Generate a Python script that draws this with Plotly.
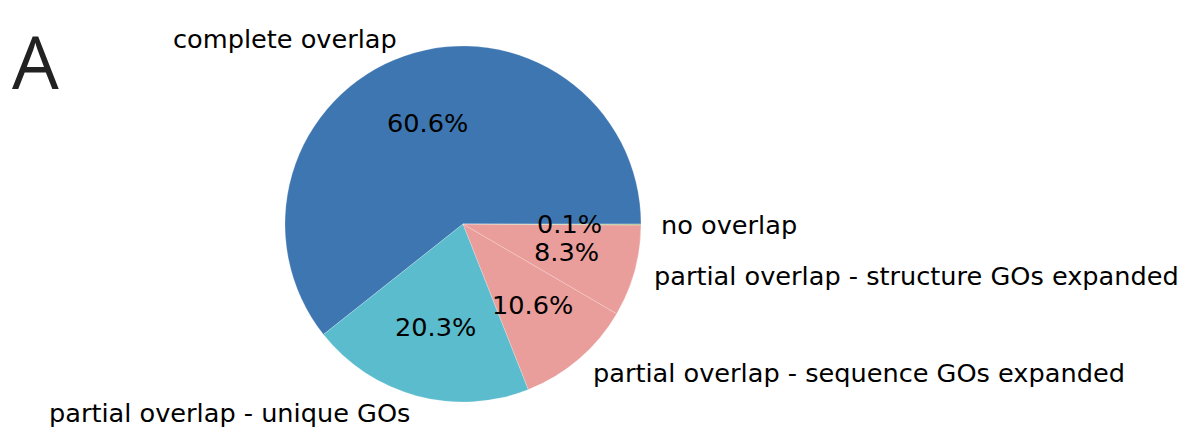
import numpy as np
import plotly.graph_objects as go

labels = ["complete overlap", "partial overlap - unique GOs",
          "partial overlap - sequence GOs expanded",
          "partial overlap - structure GOs expanded", "no overlap"]
values = [60.6, 20.3, 10.6, 8.3, 0.1]
colors = ["#3e76b1", "#5bbccd", "#e99e9b", "#e99e9b", "#a6c48a"]

# page body has an 8px margin, so the figure is drawn 8px in from the window edge
OFF = 8
W, H = 1200 - 2 * OFF, 447 - 2 * OFF
cx, cy, r = 463 - OFF, 224 - OFF, 178  # pie centre / radius in figure px

frac = np.array(values) / sum(values)

fig = go.Figure(go.Pie(
    labels=labels, values=values, sort=False,
    direction="counterclockwise", rotation=90 - 360 * frac[0],
    marker=dict(colors=colors, line=dict(color="rgba(255,255,255,0.35)", width=0.6)),
    textinfo="none", hoverinfo="label+percent", showlegend=False,
    domain=dict(x=[(cx - r) / W, (cx + r) / W], y=[1 - (cy + r) / H, 1 - (cy - r) / H]),
))

# matplotlib-style label placement: names at 1.1 r, percentages at 0.6 r
mids = np.deg2rad((np.cumsum(frac) - frac / 2) * 360)
font = dict(family="DejaVu Sans", size=25.6, color="black")
for lab, v, a in zip(labels, values, mids):
    ca, sa = np.cos(a), np.sin(a)
    fig.add_annotation(x=(cx + 1.1 * r * ca) / W, y=1 - (cy - 1.1 * r * sa) / H,
                       xref="paper", yref="paper", text=lab, showarrow=False,
                       xanchor="left" if ca > 0 else "right", yanchor="middle", font=font)
    fig.add_annotation(x=(cx + 0.6 * r * ca) / W, y=1 - (cy - 0.6 * r * sa) / H,
                       xref="paper", yref="paper", text=f"{v:.1f}%", showarrow=False,
                       xanchor="center", yanchor="middle", font=font)

# panel letter, anchored to the top so its box stays inside the figure
fig.add_annotation(x=2 / W, y=1, xref="paper", yref="paper",
                   text="A", showarrow=False, xanchor="left", yanchor="top",
                   font=dict(family="Open Sans", size=74, color="#222222"))

fig.update_layout(width=W, height=H, margin=dict(l=0, r=0, t=0, b=0),
                  paper_bgcolor="white", plot_bgcolor="white")
fig.write_html("out.html")
